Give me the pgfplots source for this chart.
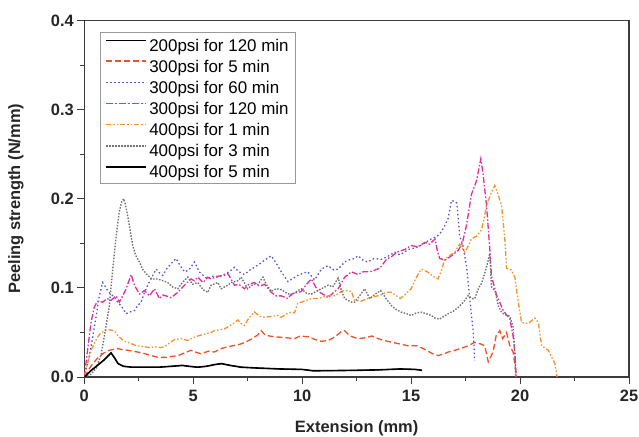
\documentclass[border=0pt]{standalone}
\usepackage{fontspec}
\setmainfont{Liberation Sans}
\usepackage{pgfplots}
\pgfplotsset{compat=1.18}
\definecolor{peelA}{RGB}{238,80,40}
\definecolor{peelB}{RGB}{85,85,205}
\definecolor{peelC}{RGB}{225,45,165}
\definecolor{peelD}{RGB}{245,145,45}
\definecolor{peelE}{RGB}{115,115,115}
\definecolor{caxis}{RGB}{60,60,60}
\pgfplotsset{
  sA/.style={color=peelA, line width=1.3bp, dash pattern=on 6bp off 3bp},
  sB/.style={color=peelB, line width=1.3bp, dash pattern=on 1.5bp off 2.5bp},
  sC/.style={color=peelC, line width=1.3bp, dash pattern=on 6bp off 2bp on 1.5bp off 2bp},
  sD/.style={color=peelD, line width=1.3bp, dash pattern=on 5bp off 2bp on 1.5bp off 2bp on 1.5bp off 2bp},
  sE/.style={color=peelE, line width=1.4bp, dash pattern=on 1.5bp off 1.5bp},
}
\begin{document}
\begin{tikzpicture}
\path[use as bounding box] (-84.3bp,-60bp) rectangle (554.7bp,377bp);
\begin{axis}[
  scale only axis, width=544.7bp, height=356.5bp,
  xmin=0, xmax=25, ymin=0, ymax=0.4,
  xtick={0,5,10,15,20,25}, ytick={0,0.1,0.2,0.3,0.4},
  minor x tick num=1, minor y tick num=1,
  tick align=outside, tick pos=left,
  major tick length=7bp, minor tick length=4bp,
  axis line style={caxis, line width=1.2bp},
  every tick/.style={caxis, line width=1bp},
  /pgf/number format/assume math mode=true,
  yticklabel style={/pgf/number format/.cd, fixed, fixed zerofill, precision=1},
  xticklabel style={yshift=-3bp},
  tick label style={font=\fontsize{16.5}{19}\selectfont\bfseries, text=black!85},
  xlabel={Extension (mm)}, ylabel={Peeling strength (N/mm)},
  label style={font=\fontsize{16.5}{19}\selectfont\bfseries, text=black!85},
  xlabel style={at={(axis description cs:0.5,-0.157)}, anchor=base},
  ylabel style={at={(axis description cs:-0.1254,0.5)}, anchor=center},
  legend style={at={(axis description cs:0.0288,0.9686)}, anchor=north west,
    draw=gray!80, line width=1bp, fill=white, font=\fontsize{17}{20}\selectfont,
    inner xsep=5bp, inner ysep=2bp, row sep=0bp,
    nodes={inner xsep=2bp, inner ysep=2.15bp, text height=15bp, text depth=1.8bp}},
  legend cell align=left,
  legend image code/.code={\draw[#1] (0bp,4.5bp) -- (40bp,4.5bp);},
]
\addplot[forget plot, color=black, line width=0.8bp] coordinates {
(0,0) (0.3,0.007) (0.6,0.013) (0.9,0.019) (1.1,0.024) (1.23,0.027) (1.4,0.021) (1.55,0.015) (1.8,0.012) (2.2,0.011) (2.8,0.011) (3.4,0.011) (4.0,0.012) (4.5,0.013) (4.8,0.012) (5.2,0.011) (5.6,0.012) (6.0,0.014) (6.3,0.015) (6.7,0.013) (7.2,0.011) (8,0.010) (9,0.009) (10,0.0085) (10.5,0.007) (11.5,0.0072) (12.5,0.0075) (13.5,0.008) (14.5,0.009) (15.2,0.0085) (15.5,0.0075)
};
\addplot[forget plot, sA] coordinates {
(0,0) (0.3,0.012) (0.6,0.021) (0.9,0.027) (1.15,0.030) (1.5,0.032) (1.7,0.031) (2.0,0.030) (2.45,0.028) (2.8,0.026) (3.07,0.024) (3.4,0.022) (3.7,0.022) (4.0,0.023) (4.3,0.024) (4.6,0.027) (4.9,0.030) (5.1,0.028) (5.36,0.026) (5.7,0.029) (5.97,0.028) (6.2,0.031) (6.43,0.033) (6.8,0.035) (7.05,0.036) (7.4,0.039) (7.7,0.043) (7.95,0.047) (8.12,0.052) (8.3,0.047) (8.5,0.046) (8.8,0.045) (9.04,0.0445) (9.3,0.044) (9.65,0.043) (9.9,0.046) (10.3,0.045) (10.6,0.042) (10.88,0.040) (11.2,0.041) (11.5,0.045) (11.8,0.051) (11.95,0.052) (12.2,0.046) (12.56,0.043) (12.9,0.044) (13.2,0.046) (13.6,0.042) (14.1,0.039) (14.5,0.037) (14.86,0.035) (15.3,0.035) (15.7,0.030) (16.0,0.026) (16.24,0.024) (16.5,0.026) (16.7,0.028) (17.16,0.031) (17.62,0.035) (17.92,0.039) (18.2,0.037) (18.38,0.035) (18.54,0.017) (18.76,0.028) (18.9,0.046) (19.07,0.052) (19.2,0.043) (19.38,0.050) (19.53,0.035) (19.68,0.028) (19.84,0.0)
};
\addplot[forget plot, sB] coordinates {
(0,0) (0.2,0.02) (0.39,0.045) (0.54,0.068) (0.69,0.091) (0.84,0.106) (0.95,0.102) (1.07,0.097) (1.2,0.093) (1.38,0.090) (1.55,0.083) (1.69,0.080) (1.92,0.071) (2.1,0.073) (2.30,0.0745) (2.45,0.080) (2.61,0.084) (2.75,0.094) (2.91,0.103) (3.1,0.112) (3.30,0.121) (3.45,0.117) (3.6,0.114) (3.8,0.122) (3.98,0.127) (4.21,0.133) (4.4,0.125) (4.6,0.118) (4.8,0.120) (5.06,0.129) (5.28,0.118) (5.5,0.113) (5.67,0.110) (5.9,0.113) (6.13,0.112) (6.43,0.115) (6.7,0.119) (6.89,0.123) (7.1,0.118) (7.35,0.115) (7.6,0.120) (7.8,0.123) (8.05,0.127) (8.27,0.131) (8.58,0.136) (8.8,0.128) (9.04,0.118) (9.35,0.107) (9.6,0.111) (9.8,0.114) (10.1,0.117) (10.26,0.118) (10.57,0.109) (10.88,0.121) (11.19,0.125) (11.45,0.120) (11.65,0.121) (11.95,0.129) (12.1,0.131) (12.4,0.133) (12.56,0.136) (12.8,0.131) (13.0,0.129) (13.3,0.133) (13.63,0.132) (13.9,0.135) (14.25,0.140) (14.5,0.137) (14.86,0.143) (15.2,0.145) (15.47,0.148) (15.93,0.155) (16.2,0.158) (16.39,0.163) (16.55,0.170) (16.7,0.178) (16.85,0.198) (17.0,0.197) (17.1,0.195) (17.16,0.178) (17.23,0.158) (17.39,0.146) (17.54,0.125) (17.69,0.088) (17.85,0.051) (17.92,0.018)
};
\addplot[forget plot, sC] coordinates {
(0,0) (0.15,0.03) (0.3,0.06) (0.45,0.078) (0.6,0.085) (0.84,0.084) (1.05,0.088) (1.23,0.086) (1.46,0.091) (1.61,0.084) (1.78,0.092) (1.92,0.099) (2.05,0.108) (2.15,0.115) (2.30,0.103) (2.53,0.093) (2.76,0.097) (2.99,0.091) (3.22,0.099) (3.45,0.088) (3.6,0.092) (3.75,0.091) (3.98,0.089) (4.29,0.095) (4.6,0.103) (4.9,0.110) (5.05,0.108) (5.21,0.112) (5.45,0.106) (5.67,0.112) (5.82,0.110) (6.1,0.113) (6.43,0.114) (6.59,0.116) (6.89,0.103) (7.1,0.104) (7.35,0.099) (7.55,0.104) (7.8,0.106) (8.05,0.102) (8.27,0.104) (8.58,0.095) (8.8,0.091) (9.04,0.091) (9.35,0.088) (9.5,0.093) (9.8,0.095) (9.96,0.096) (10.2,0.104) (10.42,0.110) (10.73,0.096) (10.95,0.093) (11.19,0.089) (11.45,0.095) (11.65,0.099) (11.95,0.112) (12.26,0.118) (12.56,0.115) (12.8,0.118) (13.1,0.118) (13.56,0.122) (13.87,0.132) (14.1,0.135) (14.33,0.140) (14.7,0.143) (15.0,0.1475) (15.3,0.146) (15.63,0.151) (15.85,0.149) (16.1,0.155) (16.2,0.142) (16.31,0.133) (16.55,0.131) (16.85,0.136) (17.16,0.142) (17.35,0.150) (17.54,0.170) (17.77,0.205) (18.0,0.220) (18.2,0.245) (18.3,0.228) (18.46,0.193) (18.61,0.144) (18.69,0.113) (18.92,0.092) (19.23,0.0745) (19.53,0.065) (19.68,0.046) (19.76,0.028) (19.82,0.0)
};
\addplot[forget plot, sD] coordinates {
(0,0) (0.15,0.015) (0.31,0.030) (0.5,0.040) (0.7,0.048) (0.92,0.052) (1.15,0.053) (1.38,0.052) (1.55,0.046) (1.84,0.040) (2.1,0.038) (2.4,0.035) (2.76,0.034) (3.0,0.033) (3.22,0.034) (3.5,0.033) (3.68,0.034) (3.9,0.038) (4.14,0.042) (4.44,0.043) (4.75,0.041) (5.0,0.044) (5.21,0.046) (5.5,0.048) (5.82,0.050) (5.97,0.052) (6.2,0.053) (6.43,0.054) (6.58,0.056) (6.89,0.061) (7.05,0.064) (7.2,0.060) (7.35,0.058) (7.55,0.066) (7.81,0.073) (8.05,0.068) (8.27,0.067) (8.6,0.068) (8.88,0.069) (9.04,0.067) (9.3,0.071) (9.5,0.0727) (9.65,0.072) (9.8,0.083) (9.96,0.084) (10.2,0.086) (10.42,0.088) (10.7,0.088) (11.03,0.090) (11.34,0.092) (11.5,0.091) (11.8,0.096) (11.95,0.097) (12.26,0.096) (12.4,0.086) (12.7,0.085) (13.0,0.088) (13.3,0.090) (13.6,0.092) (13.85,0.095) (14.1,0.095) (14.5,0.088) (14.75,0.093) (15.0,0.099) (15.2,0.110) (15.47,0.121) (15.75,0.118) (16.0,0.113) (16.23,0.110) (16.4,0.120) (16.54,0.132) (16.75,0.136) (17.0,0.140) (17.23,0.149) (17.47,0.140) (17.62,0.147) (17.77,0.155) (18.0,0.158) (18.23,0.165) (18.35,0.178) (18.46,0.1925) (18.69,0.2075) (18.84,0.215) (19.0,0.204) (19.15,0.193) (19.3,0.155) (19.38,0.122) (19.6,0.120) (19.76,0.112) (19.92,0.084) (20.07,0.061) (20.37,0.060) (20.68,0.066) (20.84,0.061) (20.99,0.035) (21.3,0.030) (21.45,0.022) (21.6,0.015) (21.7,0.0)
};
\addplot[forget plot, sE] coordinates {
(0,0) (0.3,0.003) (0.55,0.01) (0.77,0.025) (0.95,0.05) (1.15,0.08) (1.3,0.12) (1.45,0.155) (1.6,0.185) (1.72,0.197) (1.82,0.200) (1.9,0.192) (1.99,0.181) (2.1,0.165) (2.22,0.148) (2.35,0.137) (2.53,0.129) (2.7,0.120) (2.91,0.114) (3.1,0.110) (3.37,0.110) (3.6,0.108) (3.83,0.106) (4.05,0.101) (4.29,0.099) (4.5,0.106) (4.75,0.112) (4.97,0.104) (5.21,0.106) (5.45,0.098) (5.67,0.095) (5.82,0.103) (6.13,0.106) (6.28,0.099) (6.59,0.103) (6.74,0.106) (7.05,0.108) (7.2,0.112) (7.5,0.099) (7.75,0.104) (7.97,0.104) (8.2,0.112) (8.35,0.104) (8.58,0.096) (8.8,0.099) (9.04,0.098) (9.3,0.094) (9.5,0.092) (9.8,0.097) (9.96,0.099) (10.2,0.094) (10.42,0.093) (10.57,0.095) (10.88,0.099) (11.2,0.103) (11.4,0.101) (11.65,0.111) (11.8,0.097) (11.95,0.088) (12.26,0.084) (12.4,0.084) (12.6,0.090) (12.87,0.099) (13.1,0.088) (13.35,0.093) (13.6,0.097) (13.85,0.088) (14.1,0.080) (14.3,0.076) (14.55,0.0727) (14.8,0.071) (15.0,0.069) (15.25,0.072) (15.47,0.0727) (15.7,0.071) (15.93,0.069) (16.1,0.066) (16.31,0.065) (16.5,0.068) (16.7,0.071) (16.95,0.074) (17.16,0.078) (17.4,0.084) (17.62,0.0914) (17.8,0.088) (17.92,0.088) (18.1,0.100) (18.23,0.105) (18.4,0.118) (18.55,0.132) (18.61,0.139) (18.69,0.101) (18.85,0.097) (19.0,0.080) (19.15,0.0727) (19.3,0.070) (19.46,0.069) (19.53,0.068) (19.68,0.056) (19.76,0.028) (19.8,0.0)
};
\addplot[forget plot, color=black, line width=1.6bp] coordinates {
(0,0) (0.3,0.007) (0.6,0.013) (0.9,0.019) (1.1,0.024) (1.23,0.027) (1.4,0.021) (1.55,0.015) (1.8,0.012) (2.2,0.011) (2.8,0.011) (3.4,0.011) (4.0,0.012) (4.5,0.013) (4.8,0.012) (5.2,0.011) (5.6,0.012) (6.0,0.014) (6.3,0.015) (6.7,0.013) (7.2,0.011) (8,0.010) (9,0.009) (10,0.0085) (10.5,0.007) (11.5,0.0072) (12.5,0.0075) (13.5,0.008) (14.5,0.009) (15.2,0.0085) (15.5,0.0075)
};
\addlegendimage{color=black, line width=1bp}
\addlegendentry{200psi for 120 min}
\addlegendimage{sA, line width=1.7bp}
\addlegendentry{300psi for 5 min}
\addlegendimage{sB, line width=1.7bp}
\addlegendentry{300psi for 60 min}
\addlegendimage{color=peelC, line width=1.8bp, dash pattern=on 7bp off 2bp on 2bp off 2bp}
\addlegendentry{300psi for 120 min}
\addlegendimage{sD, line width=1.7bp}
\addlegendentry{400psi for 1 min}
\addlegendimage{sE, line width=1.7bp}
\addlegendentry{400psi for 3 min}
\addlegendimage{color=black, line width=1.8bp}
\addlegendentry{400psi for 5 min}
\end{axis}
\end{tikzpicture}
\end{document}
